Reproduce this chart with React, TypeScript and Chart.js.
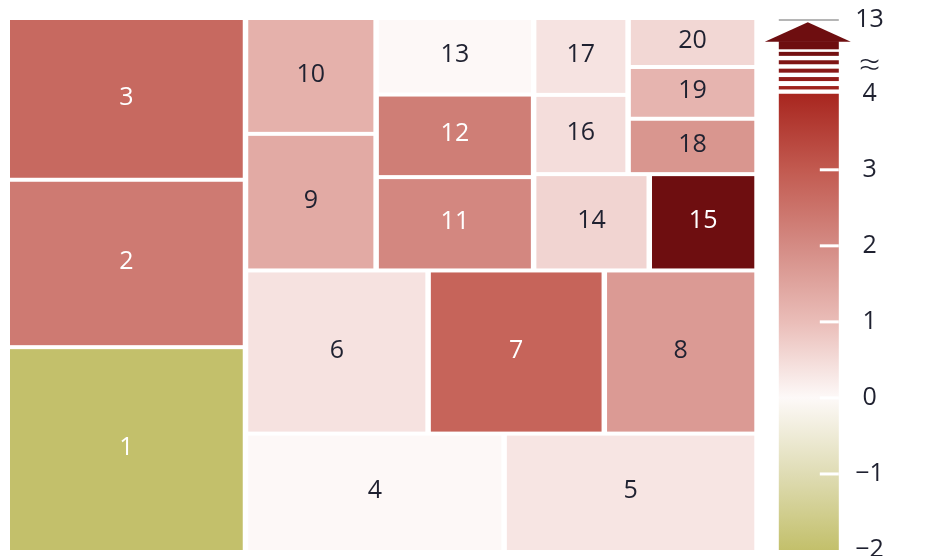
import React, { useEffect, useRef } from 'react';
import { Chart, registerables } from 'chart.js';

Chart.register(...registerables);

// ---------- data ----------
const LABELS = ['1', '2', '3', '4', '5', '6', '7', '8', '9', '10', '11', '12', '13', '14', '15', '16', '17', '18', '19', '20'];
// relative sizes (area of each tile)
const SIZES = [121.2, 98.6, 95.2, 75.9, 74.2, 74.7, 72.0, 62.1, 44.7, 37.7, 37.2, 32.7, 30.2, 28.1, 26.1, 19.0, 18.4, 18.5, 17.2, 16.2];
// colour value of each tile
const CHANGES = [-2, 2.35, 2.7, 0.02, 0.33, 0.38, 2.8, 1.7, 1.38, 1.25, 2.08, 2.27, 0.02, 0.61, 13, 0.46, 0.36, 1.78, 1.18, 0.56];
// nesting of the tiles (slice-and-dice, orientation alternates, root splits horizontally)
const TREE: any[] = [
  ['3', '2', '1'],
  [
    [['10', '9'], ['13', '12', '11'], [[['17', '16'], ['20', '19', '18']], ['14', '15']]],
    ['6', '7', '8'],
    ['4', '5'],
  ],
];
// colour bar
const CB_TICKS = [-2, -1, 0, 1, 2, 3, 4];
const CB_MIN = -2;
const CB_BREAK = 4;
const CB_TOP_VALUE = 13;
const CB_BREAK_LABEL = '≈';
const COLOR_STOPS: [number, string][] = [
  [-2, '#c3c06b'],
  [-1, '#dfdcb4'],
  [0, '#fdf9f8'],
  [1, '#eabdb8'],
  [2, '#d48b84'],
  [3, '#c25a50'],
  [4, '#a8261f'],
  [13, '#6e0e10'],
];

// ---------- helpers ----------
const CB_AXIS_MAX = 4.97; // position of the top of the broken axis
const CB_BREAK_POS = 4.35; // position of the ≈ mark
const FONT = '"Open Sans", "Noto Sans", sans-serif';
const GAP_X = 5.5;
const GAP_Y = 4;

function hexToRgb(h: string) {
  const n = parseInt(h.slice(1), 16);
  return [(n >> 16) & 255, (n >> 8) & 255, n & 255];
}
function colorFor(v: number) {
  if (v <= COLOR_STOPS[0][0]) return COLOR_STOPS[0][1];
  for (let i = 1; i < COLOR_STOPS.length; i++) {
    const [v1, c1] = COLOR_STOPS[i];
    const [v0, c0] = COLOR_STOPS[i - 1];
    if (v <= v1) {
      const t = (v - v0) / (v1 - v0);
      const a = hexToRgb(c0);
      const b = hexToRgb(c1);
      const r = a.map((x, k) => Math.round(x + (b[k] - x) * t));
      return `rgb(${r[0]},${r[1]},${r[2]})`;
    }
  }
  return COLOR_STOPS[COLOR_STOPS.length - 1][1];
}
function sizeOf(node: any): number {
  if (typeof node === 'string') return SIZES[LABELS.indexOf(node)];
  return node.reduce((s: number, c: any) => s + sizeOf(c), 0);
}
type Tile = { label: string; x0: number; y0: number; x1: number; y1: number };
function layout(node: any, x0: number, y0: number, x1: number, y1: number, horizontal: boolean, out: Tile[]) {
  if (typeof node === 'string') {
    out.push({ label: node, x0, y0, x1, y1 });
    return;
  }
  const total = sizeOf(node);
  const gap = horizontal ? GAP_X : GAP_Y;
  const avail = (horizontal ? x1 - x0 : y1 - y0) - gap * (node.length - 1);
  let pos = horizontal ? x0 : y0;
  node.forEach((child: any) => {
    const len = (avail * sizeOf(child)) / total;
    if (horizontal) layout(child, pos, y0, pos + len, y1, false, out);
    else layout(child, x0, pos, x1, pos + len, true, out);
    pos += len + gap;
  });
}

const treemapPlugin = {
  id: 'treemapAndColorbar',
  afterDraw(chart: any) {
    const ctx = chart.ctx as CanvasRenderingContext2D;
    const xs = chart.scales.x;
    const ys = chart.scales.y;
    const cs = chart.scales.c;
    // ----- treemap -----
    const tiles: Tile[] = [];
    layout(TREE, xs.getPixelForValue(0), ys.getPixelForValue(1), xs.getPixelForValue(1), ys.getPixelForValue(0), true, tiles);
    ctx.save();
    tiles.forEach((t) => {
      const i = LABELS.indexOf(t.label);
      const v = CHANGES[i];
      ctx.fillStyle = colorFor(v);
      ctx.fillRect(t.x0, t.y0, t.x1 - t.x0, t.y1 - t.y0);
      ctx.fillStyle = v > 2 || v < -1.5 ? '#ffffff' : '#1f2130';
      ctx.font = `25px ${FONT}`;
      ctx.textAlign = 'center';
      ctx.textBaseline = 'middle';
      ctx.fillText(t.label, (t.x0 + t.x1) / 2, (t.y0 + t.y1) / 2 - 1.5);
    });

    // ----- colour bar -----
    const barL = cs.left + 24.5;
    const barW = 60;
    const barR = barL + barW;
    const cx = barL + barW / 2;
    const yMin = cs.getPixelForValue(CB_MIN);
    const yBreak = cs.getPixelForValue(CB_BREAK);
    const yTop = cs.getPixelForValue(CB_AXIS_MAX);
    const grad = ctx.createLinearGradient(0, yMin, 0, yBreak);
    COLOR_STOPS.filter(([v]) => v <= CB_BREAK).forEach(([v, c]) => {
      grad.addColorStop((v - CB_MIN) / (CB_BREAK - CB_MIN), c);
    });
    ctx.fillStyle = grad;
    ctx.fillRect(barL, yBreak, barW, yMin - yBreak);

    // stripes of the broken part
    for (let k = 0; k < 5; k++) {
      const bottom = yBreak - 4.3 - 8.4 * k;
      ctx.fillStyle = colorFor(CB_BREAK + (k + 1) * ((CB_TOP_VALUE - 1 - CB_BREAK) / 5));
      ctx.fillRect(barL, bottom - (k === 0 ? 3.4 : 4), barW, k === 0 ? 3.4 : 4);
    }
    // arrow
    ctx.fillStyle = colorFor(CB_TOP_VALUE);
    const headBase = yTop + 21.7;
    ctx.fillRect(barL, headBase - 0.5, barW, 8.1);
    ctx.beginPath();
    ctx.moveTo(cx - 44, headBase);
    ctx.lineTo(cx - 1, yTop + 2.3);
    ctx.lineTo(cx + 42, headBase);
    ctx.closePath();
    ctx.fill();
    // top rule
    ctx.strokeStyle = '#9d9d9d';
    ctx.lineWidth = 1.5;
    ctx.beginPath();
    ctx.moveTo(barL, yTop);
    ctx.lineTo(barR, yTop);
    ctx.stroke();
    // white tick marks
    ctx.fillStyle = '#ffffff';
    CB_TICKS.filter((v) => v > CB_MIN && v < CB_BREAK).forEach((v) => {
      const y = cs.getPixelForValue(v);
      ctx.fillRect(barR - 19, y - 1.5, 19, 3);
    });
    ctx.restore();
  },
};

export default function App() {
  const ref = useRef<HTMLCanvasElement | null>(null);
  useEffect(() => {
    document.body.style.margin = '0';
    const canvas = ref.current;
    if (!canvas) return;
    const chart = new Chart(canvas, {
      type: 'scatter',
      data: { datasets: [] },
      options: {
        animation: false,
        responsive: false,
        devicePixelRatio: 1,
        layout: { padding: { left: 10, top: 20, right: 0, bottom: 6 } },
        plugins: { legend: { display: false }, tooltip: { enabled: false } },
        scales: {
          x: { type: 'linear', display: false, min: 0, max: 1 },
          y: { type: 'linear', display: false, min: 0, max: 1 },
          c: {
            type: 'linear',
            position: 'right',
            min: CB_MIN,
            max: CB_AXIS_MAX,
            grid: { display: false, drawTicks: false },
            border: { display: false },
            ticks: {
              autoSkip: false,
              crossAlign: 'center',
              padding: 101,
              color: '#1f2130',
              font: (c: any) =>
                c.tick && c.tick.value === CB_BREAK_POS
                  ? { family: FONT, size: 38, weight: '300' }
                  : { family: FONT, size: 25 },
              callback: (value: any) => {
                const v = Number(value);
                if (v === CB_AXIS_MAX) return String(CB_TOP_VALUE);
                if (v === CB_BREAK_POS) return CB_BREAK_LABEL;
                return v < 0 ? '\u2212' + Math.abs(v) : String(v);
              },
            },
            afterBuildTicks: (s: any) => {
              s.ticks = [...CB_TICKS, CB_BREAK_POS, CB_AXIS_MAX].map((v) => ({ value: v }));
            },
            afterFit: (s: any) => {
              s.width = 175.7;
              s.paddingTop = 0;
              s.paddingBottom = 0;
            },
          },
        },
      } as any,
      plugins: [treemapPlugin],
    });
    return () => chart.destroy();
  }, []);
  return (
    <div style={{ width: 930, height: 556 }}>
      <canvas ref={ref} width={930} height={556} style={{ display: 'block' }} />
    </div>
  );
}
